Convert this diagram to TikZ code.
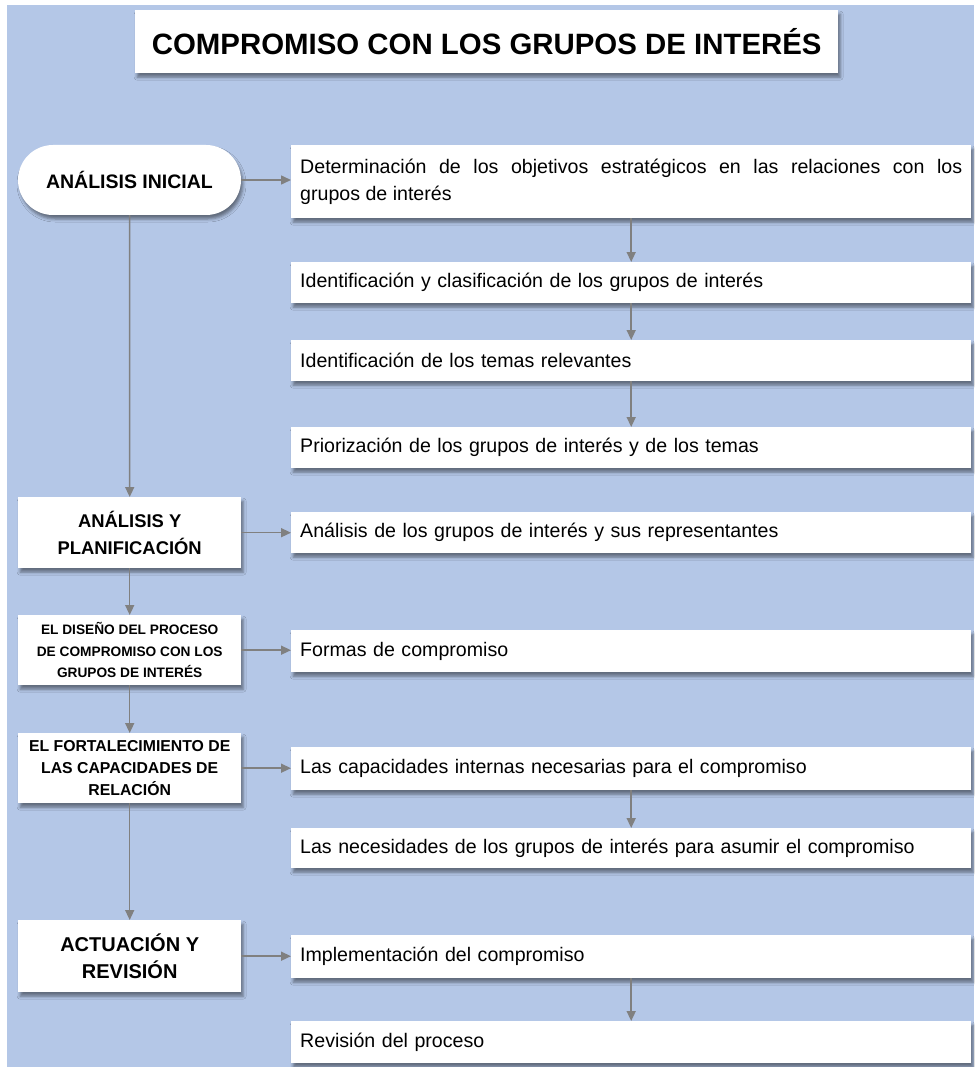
\documentclass[tikz,border=0pt]{standalone}
\usepackage{fontspec}
\setmainfont{Liberation Sans}
\usetikzlibrary{arrows.meta,shapes.misc,shadows.blur}

\definecolor{bgblue}{HTML}{B4C7E7}
\definecolor{linegray}{HTML}{808080}

\tikzset{
  card/.style={fill=white, draw=none, inner sep=0pt,
    blur shadow={shadow xshift=2pt, shadow yshift=-4pt,
                 shadow blur radius=3pt, shadow opacity=45}},
  stage/.style={card, anchor=north west, minimum width=223pt, align=center},
  task/.style={card, anchor=north west, minimum width=680pt, text width=662pt,
    inner xsep=9pt, align=left, font=\fontsize{19.6}{27}\selectfont},
  link/.style={draw=linegray, line width=1.5pt, -{Triangle[length=10pt,width=9pt]}},
}

\begin{document}
\begin{tikzpicture}[x=1pt, y=-1pt]
  \useasboundingbox (0,0) rectangle (974,1067);
  \fill[bgblue] (7,5) rectangle (974,1067);

  % title banner
  \node[card, anchor=north west, minimum width=703pt, minimum height=63pt,
        font=\bfseries\fontsize{29.4}{34}\selectfont] (title) at (135,10)
        {COMPROMISO CON LOS GRUPOS DE INTERÉS};

  % stages (left column)
  \node[card, rounded rectangle, minimum width=223pt, minimum height=70pt,
        font=\bfseries\fontsize{19.5}{24}\selectfont] (ini) at (129.5,180)
        {ANÁLISIS INICIAL};
  \node[stage, minimum height=71pt, font=\bfseries\fontsize{18.4}{27}\selectfont]
        (plan) at (18,497) {ANÁLISIS Y\\PLANIFICACIÓN};
  \node[stage, minimum height=70pt, font=\bfseries\fontsize{13.7}{21.5}\selectfont]
        (dis) at (18,615) {EL DISEÑO DEL PROCESO\\DE COMPROMISO CON LOS\\GRUPOS DE INTERÉS};
  \node[stage, minimum height=70pt, font=\bfseries\fontsize{15.8}{21.7}\selectfont]
        (fort) at (18,733) {EL FORTALECIMIENTO DE\\LAS CAPACIDADES DE\\RELACIÓN};
  \node[stage, minimum height=72pt, font=\bfseries\fontsize{20}{27}\selectfont]
        (act) at (18,920) {ACTUACIÓN Y\\REVISIÓN};

  % tasks (right column)
  \node[task, minimum height=73pt, align=justify] (r1) at (291,145)
        {Determinación de los objetivos estratégicos en las relaciones con los\linebreak grupos de interés};
  \node[task, minimum height=41pt] (r2) at (291,262)
        {Identificación y clasificación de los grupos de interés};
  \node[task, minimum height=41pt] (r3) at (291,340)
        {Identificación de los temas relevantes};
  \node[task, minimum height=41pt] (r4) at (291,427)
        {Priorización de los grupos de interés y de los temas};
  \node[task, minimum height=41pt] (r5) at (291,512)
        {Análisis de los grupos de interés y sus representantes};
  \node[task, minimum height=42pt] (r6) at (291,630)
        {Formas de compromiso};
  \node[task, minimum height=43pt] (r7) at (291,747)
        {Las capacidades internas necesarias para el compromiso};
  \node[task, minimum height=40pt] (r8) at (291,828)
        {Las necesidades de los grupos de interés para asumir el compromiso};
  \node[task, minimum height=43pt] (r9) at (291,935)
        {Implementación del compromiso};
  \node[task, minimum height=42pt] (r10) at (291,1021)
        {Revisión del proceso};

  % stage sequence
  \draw[link] (ini.south) -- (plan.north);
  \draw[link] (plan.south) -- (dis.north);
  \draw[link] (dis.south) -- (fort.north);
  \draw[link] (fort.south) -- (act.north);

  % stage to first task
  \draw[link] (ini.east) -- (ini.east -| r1.west);
  \draw[link] (plan.east) -- (plan.east -| r5.west);
  \draw[link] (dis.east) -- (dis.east -| r6.west);
  \draw[link] (fort.east) -- (fort.east -| r7.west);
  \draw[link] (act.east) -- (act.east -| r9.west);

  % task sequences
  \draw[link] (r1.south) -- (r2.north);
  \draw[link] (r2.south) -- (r3.north);
  \draw[link] (r3.south) -- (r4.north);
  \draw[link] (r7.south) -- (r8.north);
  \draw[link] (r9.south) -- (r10.north);
\end{tikzpicture}
\end{document}
